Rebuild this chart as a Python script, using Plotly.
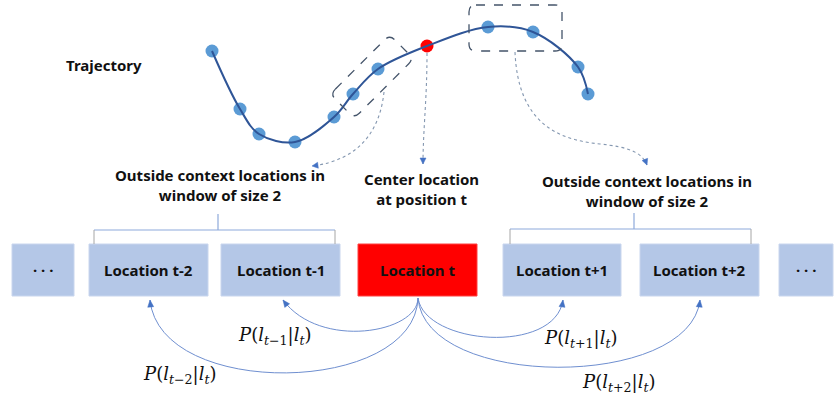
import math
import plotly.graph_objects as go

W, H = 834, 402

# ---- data ----
traj_x = [212, 240, 259, 295, 334, 353, 378, 427, 488, 533, 578, 588]
traj_y = [51, 109, 134, 142, 117, 94, 69, 46, 27, 32, 67, 94]
center_index = 7

box_labels = ["· · ·", "Location t-2", "Location t-1", "Location t",
              "Location t+1", "Location t+2", "· · ·"]
box_x0 = [12, 89, 221, 358, 503, 640, 779]
box_x1 = [74, 208, 340, 477, 621, 759, 833]
box_is_center = [False, False, False, True, False, False, False]
box_top, box_bottom = 244, 296

prob_labels = [
    "<i>P</i>(<i>l</i><sub><i>t</i>−1</sub>|<i>l</i><sub><i>t</i></sub>)",
    "<i>P</i>(<i>l</i><sub><i>t</i>−2</sub>|<i>l</i><sub><i>t</i></sub>)",
    "<i>P</i>(<i>l</i><sub><i>t</i>+1</sub>|<i>l</i><sub><i>t</i></sub>)",
    "<i>P</i>(<i>l</i><sub><i>t</i>+2</sub>|<i>l</i><sub><i>t</i></sub>)",
]
prob_pos = [(275, 336), (180, 375), (581, 339), (619, 383)]

# arcs from the center box to context boxes (cubic bezier control points)
arcs = [
    [(418, 298), (418, 333), (320, 350), (283, 300)],
    [(418, 298), (415, 395), (160, 400), (150, 300)],
    [(418, 298), (425, 345), (555, 355), (563, 300)],
    [(418, 298), (425, 390), (690, 390), (700, 300)],
]

# dotted pointer arrows
pointers = [
    [(384, 92), (380, 130), (360, 160), (312, 166)],
    [(427, 53), (427, 100), (423, 130), (423, 164)],
    [(515, 52), (518, 125), (560, 140), (600, 144), (628, 147), (642, 152), (647, 165)],
]

BLUE_PT = "#5B9BD5"
CURVE = "#2F5597"
BOX = "#B4C7E7"
RED = "#FF0000"
ARC = "#6F8FD0"
DASH = "#44546A"
DOT = "#8497B0"

shapes = []
annotations = []


def bez_path(pts):
    s = f"M {pts[0][0]},{pts[0][1]}"
    rest = pts[1:]
    for i in range(0, len(rest), 3):
        a, b, c = rest[i], rest[i + 1], rest[i + 2]
        s += f" C {a[0]},{a[1]} {b[0]},{b[1]} {c[0]},{c[1]}"
    return s


def arrowhead(tip, frm, color, size=7, half=3.2):
    dx, dy = tip[0] - frm[0], tip[1] - frm[1]
    L = math.hypot(dx, dy)
    ux, uy = dx / L, dy / L
    bx, by = tip[0] - ux * size, tip[1] - uy * size
    px, py = -uy, ux
    p1 = (bx + px * half, by + py * half)
    p2 = (bx - px * half, by - py * half)
    shapes.append(dict(type="path", path=f"M {tip[0]},{tip[1]} L {p1[0]},{p1[1]} L {p2[0]},{p2[1]} Z",
                       fillcolor=color, line=dict(color=color, width=0.5), layer="above"))


def rounded_rect(cx, cy, w, h, r, angle_deg):
    a = math.radians(angle_deg)
    ca, sa = math.cos(a), math.sin(a)

    def T(x, y):
        return (cx + x * ca - y * sa, cy + x * sa + y * ca)
    hw, hh = w / 2, h / 2
    seq = [
        ("M", T(-hw + r, -hh)),
        ("L", T(hw - r, -hh)), ("Q", T(hw, -hh), T(hw, -hh + r)),
        ("L", T(hw, hh - r)), ("Q", T(hw, hh), T(hw - r, hh)),
        ("L", T(-hw + r, hh)), ("Q", T(-hw, hh), T(-hw, hh - r)),
        ("L", T(-hw, -hh + r)), ("Q", T(-hw, -hh), T(-hw + r, -hh)),
    ]
    s = ""
    for item in seq:
        if item[0] == "Q":
            s += f" Q {item[1][0]:.2f},{item[1][1]:.2f} {item[2][0]:.2f},{item[2][1]:.2f}"
        else:
            s += f" {item[0]} {item[1][0]:.2f},{item[1][1]:.2f}"
    return s + " Z"


# dashed selection boxes
shapes.append(dict(type="path", path=rounded_rect(372, 76.5, 84, 34, 7, -45),
                   line=dict(color=DASH, width=1.3, dash="dash")))
shapes.append(dict(type="path", path=rounded_rect(515.5, 28, 93, 46, 7, 0),
                   line=dict(color=DASH, width=1.3, dash="dash")))

# dotted pointers
for p in pointers:
    shapes.append(dict(type="path", path=bez_path(p), line=dict(color=DOT, width=1.1, dash="dot")))
    arrowhead(p[-1], p[-2], "#4472C4", size=6, half=3)

# boxes
for lab, x0, x1, c in zip(box_labels, box_x0, box_x1, box_is_center):
    shapes.append(dict(type="rect", x0=x0, x1=x1, y0=box_top, y1=box_bottom,
                       fillcolor=RED if c else BOX, line=dict(color="#C9D6EE" if not c else "#FF4040", width=1),
                       layer="below"))
    annotations.append(dict(x=(x0 + x1) / 2, y=(box_top + box_bottom) / 2, text=f"<b>{lab}</b>",
                            showarrow=False, xanchor="center", yanchor="middle",
                            font=dict(family="Noto Sans", size=15, color="#111111")))

# brackets
BR = "#8EA9DB"
for stem_x, y_h, xl, xr, y_top in [(218, 230, 94, 335, 214), (634, 229, 510, 751, 213)]:
    shapes.append(dict(type="line", x0=stem_x, x1=stem_x, y0=y_top, y1=y_h, line=dict(color=BR, width=1.2)))
    shapes.append(dict(type="line", x0=xl, x1=xr, y0=y_h, y1=y_h, line=dict(color=BR, width=1.2)))
    shapes.append(dict(type="line", x0=xl, x1=xl, y0=y_h, y1=box_top, line=dict(color="#A6A6A6", width=1)))
    shapes.append(dict(type="line", x0=xr, x1=xr, y0=y_h, y1=box_top, line=dict(color="#A6A6A6", width=1)))

# arcs
for a in arcs:
    shapes.append(dict(type="path", path=bez_path(a), line=dict(color=ARC, width=1)))
    arrowhead(a[-1], a[-2], "#4472C4", size=7, half=3)

for lab, (x, y) in zip(prob_labels, prob_pos):
    annotations.append(dict(x=x, y=y, text=lab, showarrow=False, xanchor="center", yanchor="middle",
                            font=dict(family="DejaVu Serif", size=18, color="#111111")))

# text labels
TXT = dict(family="Noto Sans", size=15, color="#111111")
annotations.append(dict(x=104, y=65, text="<b>Trajectory</b>", showarrow=False,
                        xanchor="center", yanchor="middle", font=TXT))
annotations.append(dict(x=220, y=185, text="<b>Outside context locations in<br>window of size 2</b>",
                        showarrow=False, xanchor="center", yanchor="middle", font=TXT))
annotations.append(dict(x=421, y=189, text="<b>Center location<br>at position t</b>",
                        showarrow=False, xanchor="center", yanchor="middle", font=TXT))
annotations.append(dict(x=647, y=191, text="<b>Outside context locations in<br>window of size 2</b>",
                        showarrow=False, xanchor="center", yanchor="middle", font=TXT))

fig = go.Figure()
blue_x = [x for i, x in enumerate(traj_x) if i != center_index]
blue_y = [y for i, y in enumerate(traj_y) if i != center_index]
fig.add_trace(go.Scatter(x=blue_x, y=blue_y, mode="markers",
                         marker=dict(size=13, color=BLUE_PT, line=dict(width=0)), hoverinfo="skip"))
fig.add_trace(go.Scatter(x=[traj_x[center_index]], y=[traj_y[center_index]], mode="markers",
                         marker=dict(size=13, color=RED, line=dict(width=0)), hoverinfo="skip"))
fig.add_trace(go.Scatter(x=traj_x, y=traj_y, mode="lines",
                         line=dict(color=CURVE, width=2, shape="spline", smoothing=1.0), hoverinfo="skip"))

fig.update_layout(
    width=W, height=H, margin=dict(l=0, r=0, t=0, b=0),
    paper_bgcolor="white", plot_bgcolor="white", showlegend=False,
    xaxis=dict(range=[0, W], visible=False, fixedrange=True),
    yaxis=dict(range=[H, 0], visible=False, fixedrange=True),
    shapes=shapes, annotations=annotations,
)
fig.write_html("out.html", config={"displayModeBar": False},
               post_script="document.body.style.margin='0px';document.body.style.overflow='hidden';")
